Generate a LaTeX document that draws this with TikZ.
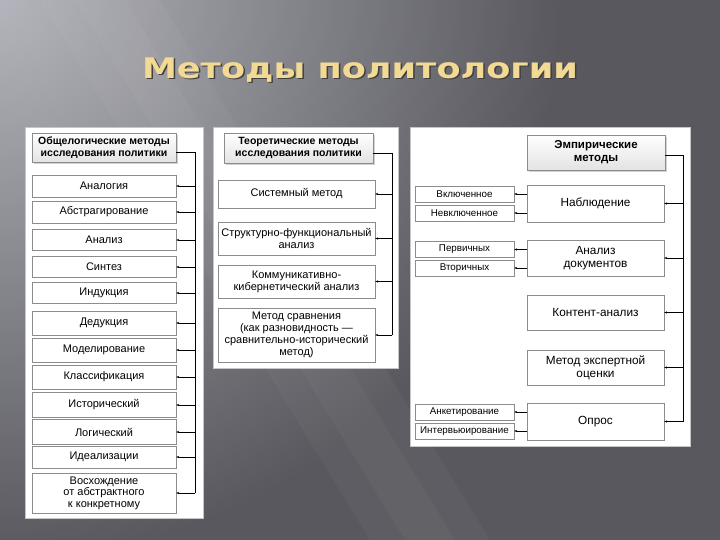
\documentclass[tikz,border=0pt]{standalone}
\usepackage{fontspec}
\setmainfont{Liberation Sans}
\newfontfamily\titlefont{DejaVu Sans}
\usetikzlibrary{arrows.meta,shadows}
\definecolor{bgbase}{HTML}{58585E}
\definecolor{bglight}{HTML}{B4B4BC}
\definecolor{gold}{HTML}{F2DA94}
\definecolor{frame}{HTML}{8C8C8C}
\newcommand{\titletext}{\scalebox{1.3}[1.05]{Методы политологии}}
\begin{document}
\begin{tikzpicture}[x=1pt,y=-1pt,
  head/.style={draw=frame, line width=0.7pt, top color=white, bottom color=gray!22,
    drop shadow={shadow xshift=2pt,shadow yshift=-2pt,fill=gray!70},
    font=\bfseries\fontsize{10.5}{11.5}\selectfont, align=center, inner sep=0pt},
  item/.style={draw=frame, fill=white, align=center, inner sep=0pt,
    font=\fontsize{11}{11.5}\selectfont},
  mid/.style={item, font=\fontsize{11}{12}\selectfont},
  sub/.style={item, font=\fontsize{9.8}{10}\selectfont},
  big/.style={item, font=\fontsize{11.8}{13}\selectfont},
  tip/.style={-{Stealth[length=3pt,width=2.2pt]}},
  panel/.style={fill=white, draw=gray!45}]
% background and title
\fill[bgbase] (0,0) rectangle (720,540);
\begin{scope}
\clip (0,0) rectangle (720,540);
\shade[inner color=bglight, outer color=bgbase] (0,0) circle (560);
\fill[white, opacity=0.03] (40,0) -- (160,0) -- (490,540) -- (370,540) -- cycle;
\fill[white, opacity=0.03] (75,0) -- (125,0) -- (455,540) -- (405,540) -- cycle;
\end{scope}
\useasboundingbox (0,0) rectangle (720,540);
\node[text=black!75, font=\titlefont\bfseries\fontsize{27}{30}\selectfont] at (361.5,71.5) {\titletext};
\node (title) [text=gold, font=\titlefont\bfseries\fontsize{27}{30}\selectfont] at (360,70) {\titletext};
% panels
\fill[panel] (25,127) rectangle (203,518);
\fill[panel] (213,127) rectangle (398,368);
\fill[panel] (410,127) rectangle (690,446);
% general logical methods
\node[head, minimum width=144pt, minimum height=29pt] (lh) at (104,147.5) {Общелогические методы\\исследования политики};
\node[item, minimum width=144pt, minimum height=22pt] (l1) at (104,186) {Аналогия};
\node[item, minimum width=144pt, minimum height=22pt] (l2) at (104,212) {Абстрагирование};
\node[item, minimum width=144pt, minimum height=21pt] (l3) at (104,240) {Анализ};
\node[item, minimum width=144pt, minimum height=21pt] (l4) at (104,267) {Синтез};
\node[item, minimum width=144pt, minimum height=21pt] (l5) at (104,293) {Индукция};
\node[item, minimum width=144pt, minimum height=24pt] (l6) at (104,323) {Дедукция};
\node[item, minimum width=144pt, minimum height=24pt] (l7) at (104,350) {Моделирование};
\node[item, minimum width=144pt, minimum height=24pt] (l8) at (104,377) {Классификация};
\node[item, minimum width=144pt, minimum height=25pt] (l9) at (104,405) {Исторический};
\node[item, minimum width=144pt, minimum height=25pt] (l10) at (104,432) {Логический};
\node[item, minimum width=144pt, minimum height=22pt] (l11) at (104,457) {Идеализации};
\node[item, minimum width=144pt, minimum height=40pt] (l12) at (104,493) {Восхождение\\от абстрактного\\к конкретному};
\coordinate (lb) at (195,152);
\draw (lh.east |- lb) -- (lb) -- (lb |- l12.east);
\draw[tip] (lb |- l1.east) -- (l1.east);
\draw[tip] (lb |- l2.east) -- (l2.east);
\draw[tip] (lb |- l3.east) -- (l3.east);
\draw[tip] (lb |- l4.east) -- (l4.east);
\draw[tip] (lb |- l5.east) -- (l5.east);
\draw[tip] (lb |- l6.east) -- (l6.east);
\draw[tip] (lb |- l7.east) -- (l7.east);
\draw[tip] (lb |- l8.east) -- (l8.east);
\draw[tip] (lb |- l9.east) -- (l9.east);
\draw[tip] (lb |- l10.east) -- (l10.east);
\draw[tip] (lb |- l11.east) -- (l11.east);
\draw[tip] (lb |- l12.east) -- (l12.east);
% theoretical methods
\node[head, minimum width=149pt, minimum height=30pt] (mh) at (298.5,148) {Теоретические методы\\исследования политики};
\node[mid, minimum width=157pt, minimum height=28pt] (m1) at (296.5,194) {Системный метод};
\node[mid, minimum width=157pt, minimum height=33pt] (m2) at (296.5,238.5) {Структурно-функциональный\\анализ};
\node[mid, minimum width=157pt, minimum height=33pt] (m3) at (296.5,281.5) {Коммуникативно-\\кибернетический анализ};
\node[mid, minimum width=157pt, minimum height=54pt] (m4) at (296.5,335) {Метод сравнения\\(как разновидность —\\сравнительно-исторический\\метод)};
\coordinate (mb) at (392,153);
\draw (mh.east |- mb) -- (mb) -- (mb |- m4.east);
\draw[tip] (mb |- m1.east) -- (m1.east);
\draw[tip] (mb |- m2.east) -- (m2.east);
\draw[tip] (mb |- m3.east) -- (m3.east);
\draw[tip] (mb |- m4.east) -- (m4.east);
% empirical methods
\node[head, font=\bfseries\fontsize{11.5}{13}\selectfont, minimum width=138pt, minimum height=35pt] (rh) at (596,152.5) {Эмпирические\\методы};
\node[big, minimum width=137pt, minimum height=37pt] (r1) at (595.5,203.5) {Наблюдение};
\node[big, minimum width=137pt, minimum height=36pt] (r2) at (595.5,258) {Анализ\\документов};
\node[big, minimum width=137pt, minimum height=35pt] (r3) at (595.5,312.5) {Контент-анализ};
\node[big, minimum width=137pt, minimum height=35pt] (r4) at (595.5,367.5) {Метод экспертной\\оценки};
\node[big, minimum width=137pt, minimum height=37pt] (r5) at (595.5,421.5) {Опрос};
\coordinate (rb) at (683,155);
\draw (rh.east |- rb) -- (rb) -- (rb |- r5.east);
\draw[tip] (rb |- r1.east) -- (r1.east);
\draw[tip] (rb |- r2.east) -- (r2.east);
\draw[tip] (rb |- r3.east) -- (r3.east);
\draw[tip] (rb |- r4.east) -- (r4.east);
\draw[tip] (rb |- r5.east) -- (r5.east);
\node[sub, minimum width=99pt, minimum height=16pt] (s1) at (464.5,194) {Включенное};
\node[sub, minimum width=99pt, minimum height=16pt] (s2) at (464.5,213) {Невключенное};
\node[sub, minimum width=99pt, minimum height=16pt] (s3) at (464.5,249.5) {Первичных};
\node[sub, minimum width=99pt, minimum height=16pt] (s4) at (464.5,268) {Вторичных};
\node[sub, minimum width=99pt, minimum height=16pt] (s5) at (464.5,412) {Анкетирование};
\node[sub, minimum width=99pt, minimum height=16pt] (s6) at (464.5,431) {Интервьюирование};
\draw[tip] (r1.west |- s1.east) -- (s1.east);
\draw[tip] (r1.west |- s2.east) -- (s2.east);
\draw[tip] (r2.west |- s3.east) -- (s3.east);
\draw[tip] (r2.west |- s4.east) -- (s4.east);
\draw[tip] (r5.west |- s5.east) -- (s5.east);
\draw[tip] (r5.west |- s6.east) -- (s6.east);
\end{tikzpicture}
\end{document}
